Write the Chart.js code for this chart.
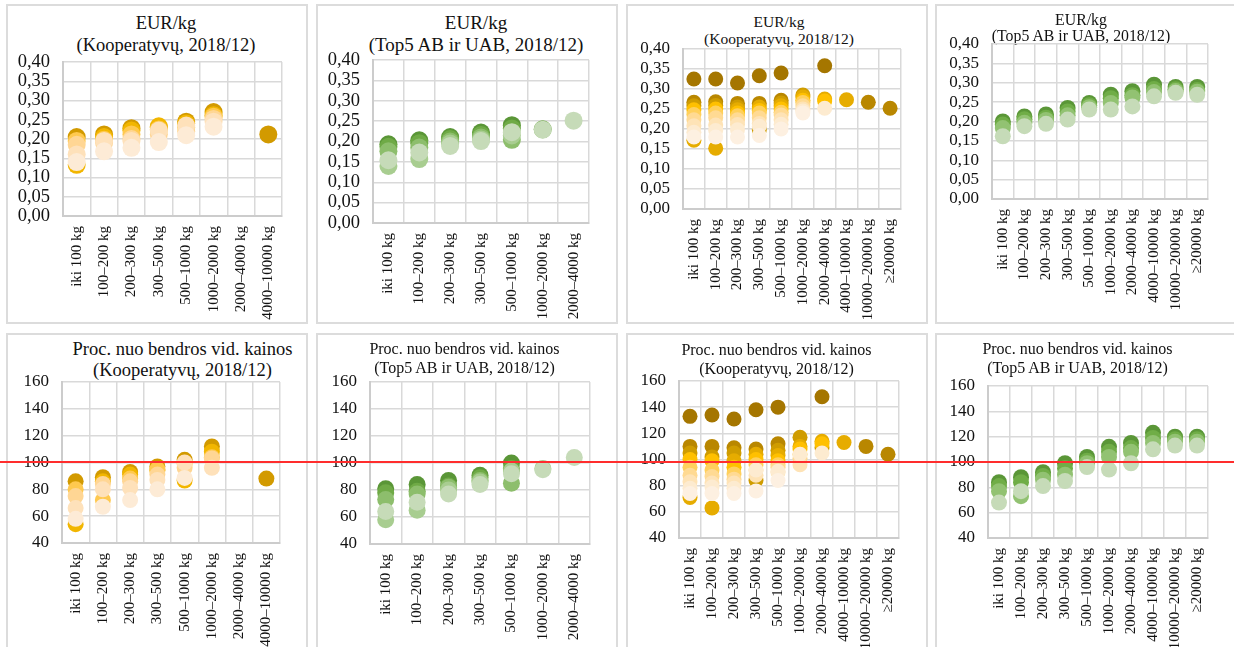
<!DOCTYPE html>
<html lang="lt">
<head>
<meta charset="utf-8">
<title>Kainų sklaida pagal kiekio grupes</title>
<script src="https://cdn.jsdelivr.net/npm/chart.js@4.4.1/dist/chart.umd.min.js"></script>
<style>
  html, body { margin: 0; padding: 0; background: #fff; }
  body { width: 1234px; height: 647px; position: relative; overflow: hidden;
         font-family: "Liberation Serif", "Times New Roman", serif; }
  .panel { position: absolute; box-sizing: border-box; border: 2px solid #dcdcdc; }
  .panel-title { position: absolute; width: 320px; text-align: center; color: #111; white-space: nowrap; }
  canvas { position: absolute; }
  #ref-line { position: absolute; left: 0; width: 1234px; top: 461px; height: 2px; background: #ff2d2d; z-index: 5; }
</style>
</head>
<body>
<div id="ref-line"></div>
<script>
// ── Categories ────────────────────────────────────────────────
const CATS = ['iki 100 kg', '100–200 kg', '200–300 kg', '300–500 kg', '500–1000 kg',
              '1000–2000 kg', '2000–4000 kg', '4000–10000 kg', '10000–20000 kg', '≥20000 kg'];

// ── EUR/kg, kooperatyvai (8 grupės) ───────────────────────────
const koopEurA = [
  [0.205, 0.212, 0.228, 0.230, 0.245, 0.270, null, 0.212],
  [0.133, 0.205, 0.222, 0.233, 0.240, 0.262, null, null],
  [0.195, 0.198, 0.212, 0.225, 0.230, 0.258, null, null],
  [0.185, 0.190, 0.200, 0.212, 0.220, 0.252, null, null],
  [0.160, 0.195, 0.195, 0.222, 0.235, 0.245, null, null],
  [0.140, 0.168, 0.177, 0.192, 0.210, 0.232, null, null],
];
// ── EUR/kg, Top5 AB ir UAB (7 grupės) ─────────────────────────
const top5EurA = [
  [0.193, 0.203, 0.211, 0.222, 0.240, null, null],
  [0.187, 0.196, 0.206, 0.216, 0.232, 0.230, null],
  [0.176, 0.185, 0.200, 0.210, 0.204, null, null],
  [0.140, 0.157, 0.195, 0.205, 0.215, null, null],
  [0.154, 0.173, 0.189, 0.201, 0.223, 0.229, 0.251],
];
// ── EUR/kg, kooperatyvai (10 grupių) ──────────────────────────
const koopEurB = [
  [0.325, 0.325, 0.315, 0.333, 0.340, null, 0.358, null, null, null],
  [0.267, 0.268, 0.264, 0.264, 0.272, null, null, null, 0.267, 0.252],
  [0.258, 0.259, 0.255, 0.198, 0.265, 0.285, null, null, null, null],
  [0.172, 0.152, 0.248, 0.255, 0.258, 0.280, 0.275, 0.273, null, null],
  [0.248, 0.250, 0.240, 0.246, 0.250, 0.272, 0.270, null, null, null],
  [0.236, 0.240, 0.233, 0.240, 0.242, 0.266, null, null, null, null],
  [0.223, 0.228, 0.223, 0.228, 0.235, 0.258, null, null, null, null],
  [0.208, 0.210, 0.211, 0.214, 0.223, 0.250, null, null, null, null],
  [0.192, 0.196, 0.198, 0.207, 0.212, 0.245, 0.252, null, null, null],
  [0.180, 0.180, 0.180, 0.184, 0.200, 0.240, null, null, null, null],
];
// ── EUR/kg, Top5 AB ir UAB (10 grupių) ────────────────────────
const top5EurB = [
  [0.200, 0.213, 0.218, 0.235, 0.248, 0.269, 0.278, 0.295, 0.289, 0.289],
  [0.192, 0.206, 0.210, 0.226, 0.242, 0.260, 0.268, 0.284, 0.283, 0.281],
  [0.183, 0.197, 0.204, 0.216, 0.237, 0.248, 0.262, 0.276, 0.279, 0.277],
  [0.162, 0.188, 0.194, 0.205, 0.231, 0.231, 0.239, 0.265, 0.274, 0.269],
];
// ── Proc. nuo bendros vid. kainos ─────────────────────────────
const koopPctA = [
  [86, 89, 93, 97, 102, 112, null, 88],
  [54, 86, 91, 94, 86.5, 108, null, null],
  [80, 72, 88, 95, 99, 104, null, null],
  [75, 84, 86, 91, 96, 103, null, null],
  [66, 80, 81, 87, 100, 96, null, null],
  [58, 67, 72, 80, 88.5, null, null, null],
];
const top5PctA = [
  [81, 84, 87, 91, 100, null, null],
  [78, 79, 83, 89, 96, null, null],
  [73, 77, 82, 87, 85, null, null],
  [58, 65, 80, 86, 94, 96, null],
  [64, 71, 77, 84, 92, 95, 104],
];
const koopPctB = [
  [133, 134, 131, 138, 140, null, 148, null, null, null],
  [110, 110, 109, 108, 112, null, null, null, 110, 104],
  [105, 102, 105, 84, 107, 117, 109, null, null, null],
  [71, 63, 99, 104, 103, 110, 114, 113, null, null],
  [100, 99, 94, 100, 99, 108, 112, null, null, null],
  [94, 92, 89, 96, 96, 104, null, null, null, null],
  [88, 87, 85, 92, 94, 101, null, null, null, null],
  [83, 82, 82, 88, 90, 96, null, null, null, null],
  [78, 79, 78, 92, 91, 104, 105, null, null, null],
  [74, 74, 74, 76, 84, null, null, null, null, null],
];
const top5PctB = [
  [84, 88, 92, 99, 104, 112, 115, 123, 120, 120],
  [81, 84, 89, 95, 101, 108, 111, 119, 118, 118],
  [77, 73, 86, 90, 99, 104, 108, 115, 116, 116],
  [68, 77, 81, 85, 96, 94, 99, 110, 113, 113],
];

// ── Palettes (dark → light, light drawn last) ─────────────────
const GOLD6  = ['#D29A00', '#F2B600', '#FFC94F', '#FFD694', '#FEE1BA', '#FDEBD6'];
const GOLD10 = ['#A57600', '#B98700', '#CF9C00', '#E6AC00', '#FFC000', '#FFD05C', '#FFDA93', '#FEE3B6', '#FDEBD0', '#FDF0E1'];
const GREEN5 = ['#5A9637', '#6FAA46', '#8DBE6C', '#A8CD90', '#C6DBB8'];
const GREEN4 = ['#5A9637', '#70AD47', '#92C272', '#C6DBB8'];

const SERIF = '"Liberation Serif", "Times New Roman", serif';
Chart.defaults.font.family = SERIF;
const TITLE_EUR = 'EUR/kg';
const TITLE_PCT = 'Proc. nuo bendros vid. kainos';
const SUB_KOOP = '(Kooperatyvų, 2018/12)';
const SUB_TOP5 = '(Top5 AB ir UAB, 2018/12)';

const eurTick = v => v.toFixed(2).replace('.', ',');
const pctTick = v => String(Math.round(v));

// box = [x, y, w, h]; plot = [left, top, right, bottom]; tpos = [centerX, firstLineY, lineHeight, size]
const PANELS = [
  { series: koopEurA, colors: GOLD6,  n: 8,  box: [6, 4, 302, 320],   plot: [63, 62, 282, 216],
    title: [TITLE_EUR, SUB_KOOP], tpos: [166, 23, 22, 18.5],  r: 9,   y: [0, 0.4, 0.05], fmt: eurTick, yFont: 18.5 },
  { series: top5EurA, colors: GREEN5, n: 7,  box: [316, 4, 302, 320], plot: [373, 60, 589, 223],
    title: [TITLE_EUR, SUB_TOP5], tpos: [476, 22.7, 21.8, 19], r: 9,   y: [0, 0.4, 0.05], fmt: eurTick, yFont: 18.5 },
  { series: koopEurB, colors: GOLD10, n: 10, box: [626, 4, 302, 320], plot: [683, 49, 901, 209],
    title: [TITLE_EUR, SUB_KOOP], tpos: [779, 21.7, 17.6, 15.5], r: 7.5, y: [0, 0.4, 0.05], fmt: eurTick, yFont: 17 },
  { series: top5EurB, colors: GREEN4, n: 10, box: [935, 4, 305, 320], plot: [992, 44, 1208, 199],
    title: [TITLE_EUR, SUB_TOP5], tpos: [1081, 20, 16.7, 15.8], r: 8,  y: [0, 0.4, 0.05], fmt: eurTick, yFont: 17 },
  { series: koopPctA, colors: GOLD6,  n: 8,  box: [6, 333, 302, 330],   plot: [62, 382, 280, 543],
    title: [TITLE_PCT, SUB_KOOP], tpos: [182.5, 349, 21, 18.5], r: 8, y: [40, 160, 20], fmt: pctTick, yFont: 17 },
  { series: top5PctA, colors: GREEN5, n: 7,  box: [316, 333, 302, 330], plot: [370, 382, 590, 544],
    title: [TITLE_PCT, SUB_TOP5], tpos: [464.5, 348, 19, 16], r: 8.5, y: [40, 160, 20], fmt: pctTick, yFont: 17 },
  { series: koopPctB, colors: GOLD10, n: 10, box: [626, 333, 302, 330], plot: [679, 381, 899, 538],
    title: [TITLE_PCT, SUB_KOOP], tpos: [776.5, 349, 19, 16], r: 7.5, y: [40, 160, 20], fmt: pctTick, yFont: 17 },
  { series: top5PctB, colors: GREEN4, n: 10, box: [935, 333, 305, 330], plot: [988, 386, 1208, 538],
    title: [TITLE_PCT, SUB_TOP5], tpos: [1077.5, 348, 19, 16], r: 8, y: [40, 160, 20], fmt: pctTick, yFont: 17 },
];

// ── One panel: frame, title, scatter over category axis ───────
function renderPanel(p) {
  const [bx, by, bw, bh] = p.box;
  const [L, T, R, B] = p.plot;
  const [cx, ty, lh, fs] = p.tpos;

  const frame = document.createElement('div');
  frame.className = 'panel';
  Object.assign(frame.style, { left: bx + 'px', top: by + 'px', width: bw + 'px', height: bh + 'px' });
  document.body.appendChild(frame);

  const title = document.createElement('div');
  title.className = 'panel-title';
  Object.assign(title.style, { left: (cx - 160) + 'px', top: (ty - lh / 2) + 'px',
    fontSize: fs + 'px', lineHeight: lh + 'px' });
  title.innerHTML = p.title.join('<br>');
  document.body.appendChild(title);

  const cv = document.createElement('canvas');
  cv.width = bw; cv.height = bh;
  Object.assign(cv.style, { left: bx + 'px', top: by + 'px', width: bw + 'px', height: bh + 'px' });
  document.body.appendChild(cv);

  const gridCol = '#d9d9d9';
  const n = p.series.length;
  new Chart(cv, {
    type: 'line',
    data: {
      labels: CATS.slice(0, p.n),
      // lower "order" is painted last, so the light shades end up on top
      datasets: p.series.map((s, i) => ({
        data: s, showLine: false, order: n - i,
        pointRadius: p.r, pointHoverRadius: p.r,
        pointBackgroundColor: p.colors[i], pointBorderColor: p.colors[i], pointBorderWidth: 0,
        borderColor: p.colors[i], backgroundColor: p.colors[i],
      })),
    },
    options: {
      responsive: false, animation: false, devicePixelRatio: 1, events: [],
      layout: { padding: { left: 0, top: T - by, right: bx + bw - R, bottom: 0 } },
      plugins: { legend: { display: false }, tooltip: { enabled: false }, title: { display: false } },
      scales: {
        x: {
          offset: true,
          grid: { offset: true, color: gridCol, lineWidth: 1.5, drawTicks: false },
          border: { color: '#cccccc', width: 2 },
          ticks: { autoSkip: false, minRotation: 90, maxRotation: 90, padding: 10,
                   color: '#111', font: { family: SERIF, size: 15 } },
          afterFit: s => { s.height = by + bh - B; },
        },
        y: {
          min: p.y[0], max: p.y[1],
          grid: { color: gridCol, lineWidth: 1.5, drawTicks: false },
          border: { color: '#cccccc', width: 2 },
          ticks: { stepSize: p.y[2], autoSkip: false, padding: 13, color: '#111',
                   font: { family: SERIF, size: p.yFont }, callback: p.fmt },
          afterFit: s => { s.width = L - bx; },
        },
      },
    },
  });
}

PANELS.forEach(renderPanel);
</script>
</body>
</html>
